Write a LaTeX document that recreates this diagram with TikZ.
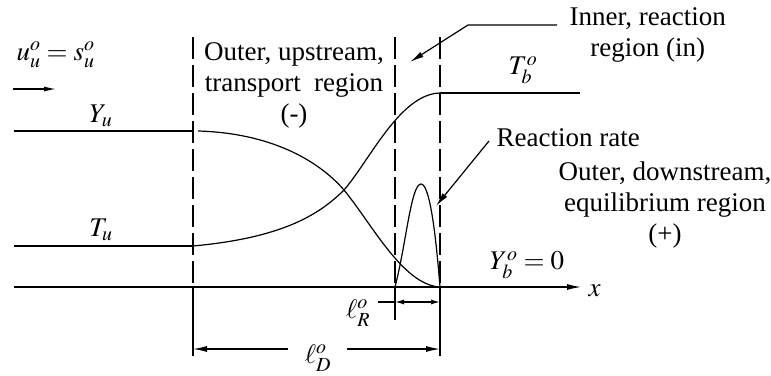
\documentclass[tikz,border=0pt]{standalone}
\usepackage{mathptmx}
\usepackage{fontspec}
\setmainfont{Liberation Serif}
\usetikzlibrary{arrows.meta}
\begin{document}
\begin{tikzpicture}[x=1pt,y=-1pt,
  line width=1.2pt,
  txt/.style={font=\fontsize{27}{31}\selectfont, inner sep=0pt, align=center},
  dashln/.style={dash pattern=on 22pt off 6pt},
  bigtip/.style={-{Latex[length=14pt,width=6pt]}},
  smalltip/.style={{Latex[length=9pt,width=5pt]}-{Latex[length=9pt,width=5pt]}}
]
\path[use as bounding box, fill=white] (0,0) rectangle (771,375);

% coordinates
\coordinate (axL) at (14,287);
\coordinate (axR) at (581,287);
\coordinate (dA0) at (193,37);  \coordinate (dA1) at (193,287); \coordinate (dA2) at (193,356);
\coordinate (dB0) at (395,37);  \coordinate (dB1) at (395,287); \coordinate (dB2) at (395,320);
\coordinate (dC0) at (440,37);  \coordinate (dC1) at (440,287); \coordinate (dC2) at (440,356);

% axis
\draw[bigtip] (axL) -- (axR);
\node[txt, anchor=west] (xl) at (588,291) {$x$};

% region boundaries
\draw[dashln] (dA0) -- (dA1);
\draw[dashln] (dB0) -- (dB1);
\draw[dashln] (dC0) -- (dC1);
\draw (dA1) -- (dA2);
\draw (dB1) -- (dB2);
\draw (dC1) -- (dC2);

% upstream states
\coordinate (yu0) at (14,131); \coordinate (yu1) at (193,131);
\coordinate (tu0) at (14,246); \coordinate (tu1) at (193,246);
\draw (yu0) -- (yu1);
\draw (tu0) -- (tu1);
\node[txt] (Yu) at (101,116) {$Y_u$};
\node[txt] (Tu) at (101,230) {$T_u$};

% downstream T_b
\coordinate (tb0) at (440,93); \coordinate (tb1) at (580,93);
\draw (tb0) -- (tb1);
\node[txt] (Tb) at (523,70) {$T_b^o$};

% Y curve
\draw (198,131) .. controls (270,133) and (318,160) .. (344,190)
      .. controls (372,224) and (403,285) .. (440,287);
% T curve
\draw (tu1) .. controls (280,238) and (318,216) .. (344,190)
      .. controls (370,160) and (400,94) .. (tb0);
% reaction rate
\coordinate (pk) at (421,184);
\draw (dB1) .. controls (406,245) and (411,184) .. (pk)
      .. controls (431,184) and (437,250) .. (dC1);

% inlet velocity
\node[txt, anchor=west] (uu) at (16,55) {$u_u^o = s_u^o$};
\coordinate (ua0) at (13,89); \coordinate (ua1) at (56,89);
\draw[-{Latex[length=12pt,width=5pt]}] (ua0) -- (ua1);

% region labels
\node[txt] (up) at (294,85) {Outer, upstream,\\transport\ \ region\\(-)};
\node[txt, anchor=west] (inner) at (569,35) {Inner, reaction\\region (in)};
\node[txt] (down) at (665,205) {Outer, downstream,\\equilibrium region\\(+)};
\node[txt, anchor=west] (rr) at (496,138) {Reaction rate};
\node[txt] (Yb) at (527,265) {$Y_b^o = 0$};

% leaders
\coordinate (in1) at (557,25); \coordinate (in2) at (468,25); \coordinate (in3) at (410,62);
\draw[bigtip] (in1) -- (in2) -- (in3);
\coordinate (rr1) at (489,141); \coordinate (rr2) at (436,206);
\draw[bigtip] (rr1) -- (rr2);

% dimension lR
\node[txt] (lR) at (358,313) {$\ell_R^o$};
\coordinate (lr0) at (378,302); \coordinate (lr1) at (395,302); \coordinate (lr2) at (440,302);
\draw (lr0) -- (lr1);
\draw[smalltip] (lr1) -- (lr2);

% dimension lD
\node[txt] (lD) at (318,358) {$\ell_D^o$};
\coordinate (ld0) at (193,349); \coordinate (ld3) at (440,349);
\coordinate (ld1) at (288,349); \coordinate (ld2) at (347,349);
\draw[bigtip] (ld1) -- (ld0);
\draw[bigtip] (ld2) -- (ld3);
\end{tikzpicture}
\end{document}
